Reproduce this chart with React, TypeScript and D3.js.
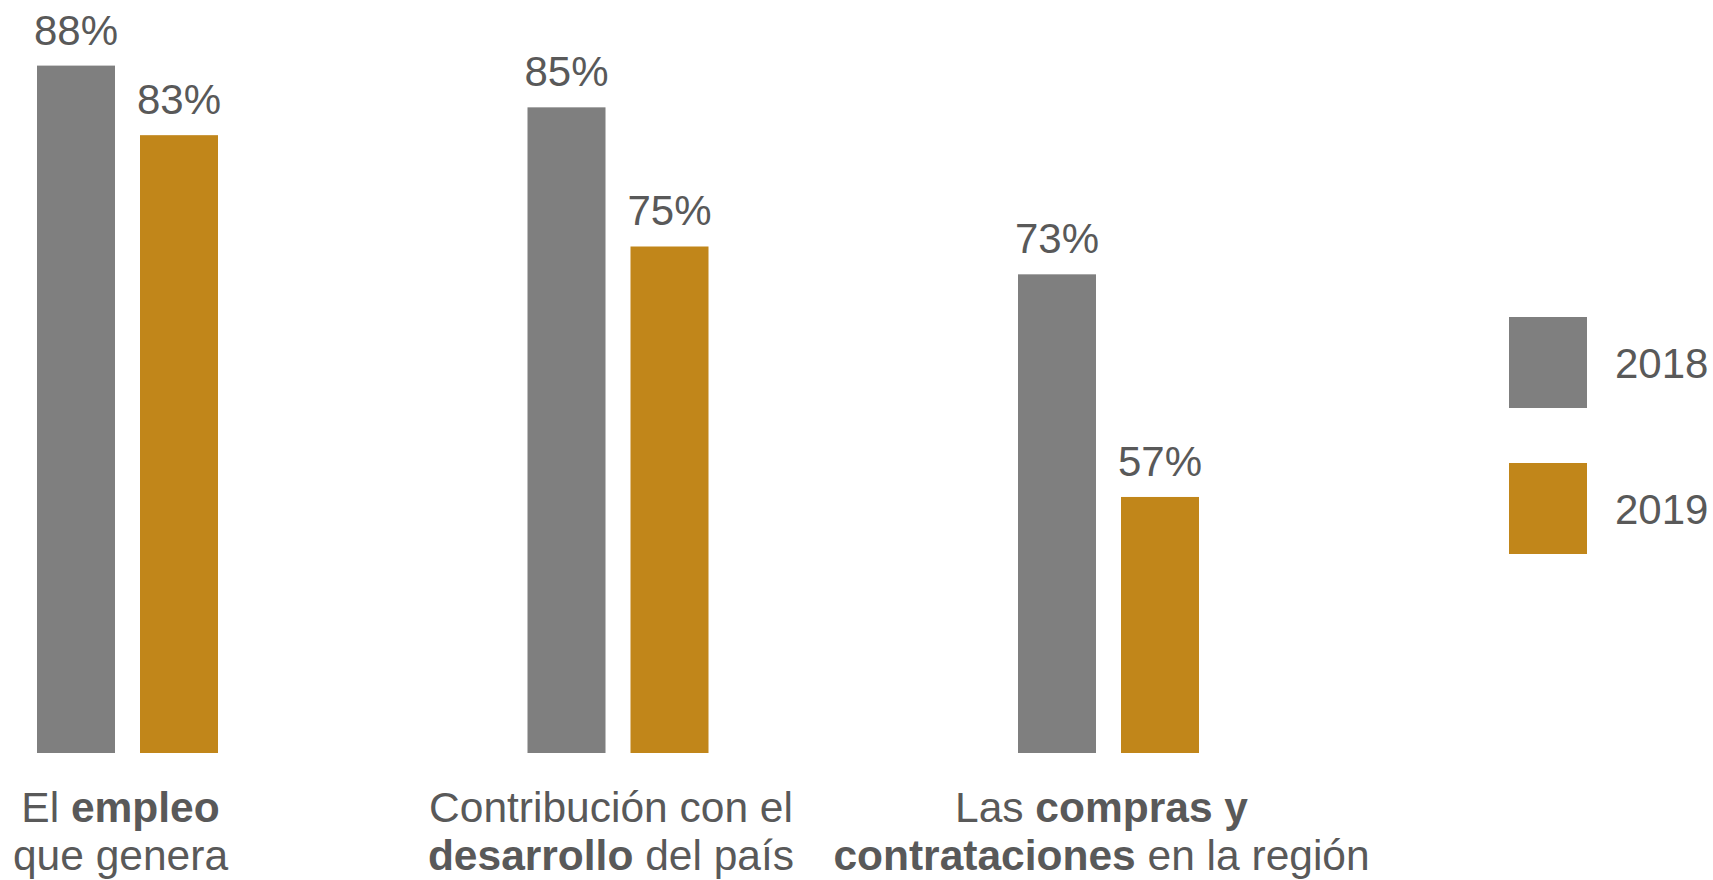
import React from "react";
import * as d3 from "d3";

const categories = ["empleo", "desarrollo", "compras"];
const seriesNames = ["2018", "2019"];
const values2018 = [88, 85, 73];
const values2019 = [83, 75, 57];
const seriesColors = ["#7F7F7F", "#C1861A"];

// label lines: [text, bold]
const categoryLabels: [string, boolean][][][] = [
  [[["El ", false], ["empleo", true]], [["que genera", false]]],
  [[["Contribución con el", false]], [["desarrollo", true], [" del país", false]]],
  [[["Las ", false], ["compras y", true]], [["contrataciones", true], [" en la región", false]]],
];

const W = 1713;
const H = 880;
const textColor = "#595959";
const font = "'Liberation Sans', Arial, sans-serif";

export default function App() {
  const baseY = 753;
  const y = d3.scaleLinear().domain([38.6, 88]).range([baseY, 65.6]);
  const x = d3.scalePoint<string>().domain(categories).range([127.5, 1108.5]);
  const inner = d3.scaleBand<string>().domain(seriesNames).range([-90.5, 90.5]).paddingInner(0.2427).paddingOuter(0);
  const series = [values2018, values2019];

  const legendY = d3.scalePoint<string>().domain(seriesNames).range([362.5, 508.5]);

  return (
    <svg width={W} height={H} style={{ position: "absolute", left: 0, top: 0, background: "#fff" }} fontFamily={font}>
      {categories.map((c, ci) => (
        <g key={c}>
          {seriesNames.map((s, si) => {
            const v = series[si][ci];
            const bx = (x(c) as number) + (inner(s) as number);
            const bw = inner.bandwidth();
            const top = y(v);
            return (
              <g key={s}>
                <rect x={bx} y={top} width={bw} height={baseY - top} fill={seriesColors[si]} />
                <text x={bx + bw / 2} y={top - 21} textAnchor="middle" fontSize={42} fill={textColor}>
                  {v}%
                </text>
              </g>
            );
          })}
          {categoryLabels[ci].map((line, li) => (
            <text
              key={li}
              x={(x(c) as number) - 7}
              y={822 + li * 48}
              textAnchor="middle"
              fontSize={42.5}
              fill={textColor}
              style={{ whiteSpace: "pre" }}
            >
              {line.map(([t, b], k) => (
                <tspan key={k} fontWeight={b ? "bold" : "normal"}>
                  {t}
                </tspan>
              ))}
            </text>
          ))}
        </g>
      ))}
      {seriesNames.map((s, si) => {
        const cy = legendY(s) as number;
        return (
          <g key={s}>
            <rect x={1509} y={cy - 45.5} width={78} height={91} fill={seriesColors[si]} />
            <text x={1615} y={cy + 15} fontSize={42} fill={textColor}>
              {s}
            </text>
          </g>
        );
      })}
    </svg>
  );
}
